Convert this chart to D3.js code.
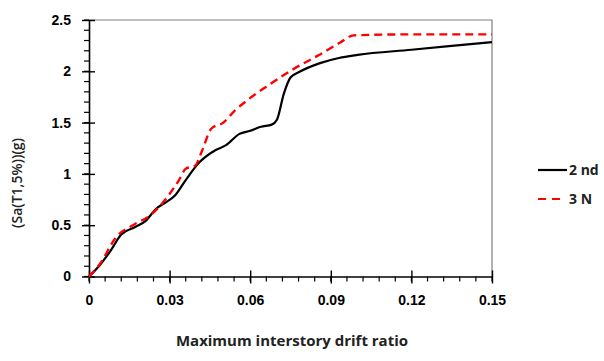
<!DOCTYPE html>
<html>
<head>
<meta charset="utf-8">
<script src="https://cdn.jsdelivr.net/npm/d3@7"></script>
<style>
  body { margin: 0; background: #fff; }
  svg { font-family: "Open Sans", "Noto Sans", sans-serif; }
</style>
</head>
<body>
<svg id="chart" width="604" height="361"></svg>
<script>
// series: 2 nd
const driftA = [0, 0.004, 0.008, 0.012, 0.017, 0.021, 0.025, 0.029, 0.032, 0.036, 0.041, 0.047, 0.051, 0.056, 0.06, 0.064, 0.068, 0.070, 0.0725, 0.075, 0.078, 0.086, 0.093, 0.10, 0.12, 0.15];
const saA = [0, 0.11, 0.25, 0.41, 0.48, 0.54, 0.66, 0.73, 0.79, 0.94, 1.11, 1.23, 1.28, 1.39, 1.42, 1.46, 1.48, 1.53, 1.78, 1.94, 1.99, 2.08, 2.13, 2.16, 2.21, 2.285];
// series: 3 N
const driftB = [0, 0.004, 0.010, 0.017, 0.023, 0.029, 0.0335, 0.036, 0.0395, 0.042, 0.0455, 0.050, 0.054, 0.0585, 0.066, 0.076, 0.085, 0.0935, 0.0985, 0.12, 0.15];
const saB = [0, 0.12, 0.38, 0.51, 0.60, 0.77, 0.94, 1.05, 1.08, 1.22, 1.44, 1.50, 1.61, 1.71, 1.85, 2.02, 2.15, 2.28, 2.35, 2.36, 2.36];

const seriesNames = ["2 nd", "3 N"];
const xTicks = [0, 0.03, 0.06, 0.09, 0.12, 0.15];
const yTicks = [0, 0.5, 1, 1.5, 2, 2.5];

const svg = d3.select("#chart");
const mLeft = 89, mRight = 492, mTop = 20, mBottom = 276.5;

const x = d3.scaleLinear().domain([0, 0.15]).range([mLeft, mRight]);
const y = d3.scaleLinear().domain([0, 2.5]).range([mBottom, mTop]);

// frame (top + right, grey)
svg.append("path")
  .attr("d", `M${mLeft},${mTop}H${mRight}V${mBottom}`)
  .attr("fill", "none").attr("stroke", "#7f7f7f").attr("stroke-width", 1.2);

// minor ticks
const xMinor = d3.range(0, 0.1501, 0.006);
const yMinor = d3.range(0, 2.501, 0.1);
svg.append("g").selectAll("line").data(xMinor).join("line")
  .attr("x1", d => x(d)).attr("x2", d => x(d))
  .attr("y1", mBottom).attr("y2", mBottom + 5)
  .attr("stroke", "#000").attr("stroke-width", 1.2);
svg.append("g").selectAll("line").data(yMinor).join("line")
  .attr("x1", mLeft - 5).attr("x2", mLeft)
  .attr("y1", d => y(d)).attr("y2", d => y(d))
  .attr("stroke", "#000").attr("stroke-width", 1.2);

// x axis
const xAxis = svg.append("g")
  .attr("transform", `translate(0,${mBottom})`)
  .call(d3.axisBottom(x).tickValues(xTicks).tickSizeInner(7).tickSizeOuter(0)
    .tickFormat(d => String(+d.toFixed(2))).tickPadding(12));
xAxis.select(".domain").attr("stroke-width", 1.6);
xAxis.selectAll(".tick line").attr("y1", -6).attr("stroke-width", 1.4);
xAxis.selectAll("text").attr("font-size", 14).attr("font-weight", 700).attr("fill", "#000");

// y axis
const yAxis = svg.append("g")
  .attr("transform", `translate(${mLeft},0)`)
  .call(d3.axisLeft(y).tickValues(yTicks).tickSizeInner(7).tickSizeOuter(0)
    .tickFormat(d => String(d)).tickPadding(11));
yAxis.select(".domain").attr("stroke-width", 1.6);
yAxis.selectAll(".tick line").attr("x1", 6).attr("x2", -7).attr("stroke-width", 1.4);
yAxis.selectAll("text").attr("font-size", 14).attr("font-weight", 700).attr("fill", "#000");

// lines
const line = d3.line()
  .x(d => x(d[0]))
  .y(d => y(d[1]))
  .curve(d3.curveMonotoneX);

svg.append("path")
  .datum(d3.zip(driftA, saA))
  .attr("d", line)
  .attr("fill", "none").attr("stroke", "#000").attr("stroke-width", 2.2);

svg.append("path")
  .datum(d3.zip(driftB, saB))
  .attr("d", line)
  .attr("fill", "none").attr("stroke", "#ff0000").attr("stroke-width", 2.4)
  .attr("stroke-dasharray", "8,5");

// legend
const legend = svg.append("g");
const legStyles = [{ c: "#000", dash: null, x2: 567 }, { c: "#ff0000", dash: "8,6", x2: 561 }];
seriesNames.forEach((name, i) => {
  const ly = 170 + i * 29;
  legend.append("line")
    .attr("x1", 538).attr("x2", legStyles[i].x2).attr("y1", ly).attr("y2", ly)
    .attr("stroke", legStyles[i].c).attr("stroke-width", 2.2)
    .attr("stroke-dasharray", legStyles[i].dash);
  legend.append("text")
    .attr("x", 569).attr("y", ly).attr("dy", "0.35em")
    .attr("font-size", 14).attr("font-weight", 700).attr("fill", "#222")
    .text(name);
});

// axis titles
svg.append("text")
  .attr("x", 292).attr("y", 346)
  .attr("text-anchor", "middle")
  .attr("font-size", 15).attr("font-weight", 700).attr("fill", "#222")
  .text("Maximum interstory drift ratio");

svg.append("text")
  .attr("transform", "translate(22,183) rotate(-90)")
  .attr("text-anchor", "middle")
  .attr("font-size", 14).attr("font-weight", 600).attr("fill", "#222")
  .text("(Sa(T1,5%))(g)");
</script>
</body>
</html>
